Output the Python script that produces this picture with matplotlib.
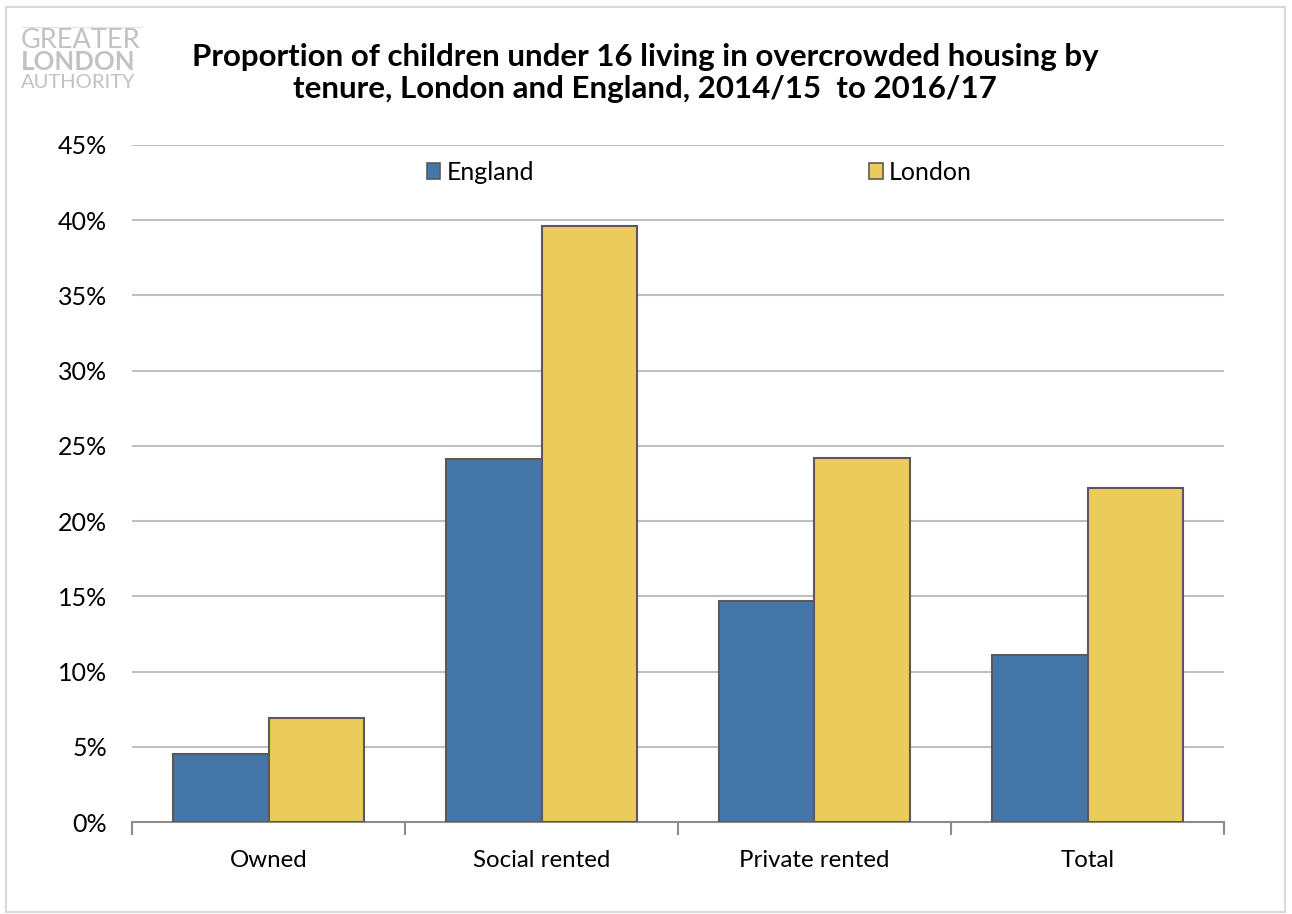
import matplotlib
matplotlib.use("Agg")
import matplotlib.pyplot as plt
import numpy as np
from matplotlib.patches import Rectangle
from matplotlib.lines import Line2D

categories = ["Owned", "Social rented", "Private rented", "Total"]
england = [4.5, 24.1, 14.7, 11.1]
london = [6.9, 39.6, 24.2, 22.2]
series_names = ["England", "London"]
yticks = [0, 5, 10, 15, 20, 25, 30, 35, 40, 45]
title = "Proportion of children under 16 living in overcrowded housing by\ntenure, London and England, 2014/15  to 2016/17"

plt.rcParams['font.family'] = ['Lato', 'DejaVu Sans']

W, H = 1292, 914
fig = plt.figure(figsize=(W/100, H/100), dpi=100)

# outer frame
fig.patches.append(Rectangle((6/W, 1 - 912/H), (1285-6)/W, (912-7)/H, transform=fig.transFigure,
                             fill=False, edgecolor='#d9d9d9', linewidth=1.5))

ax = fig.add_axes([132/W, 1 - 822/H, (1224-132)/W, (822-145)/H])
x = np.arange(len(categories))
w = 0.35
blue = '#4576A9'
yellow = '#EBCB5C'
edge = '#5a5a5a'
ax.bar(x - w/2, england, w, color=blue, edgecolor=edge, linewidth=1.5, label=series_names[0], zorder=3)
ax.bar(x + w/2, london, w, color=yellow, edgecolor=edge, linewidth=1.5, label=series_names[1], zorder=3)

ax.set_xlim(-0.5, len(categories) - 0.5)
ax.set_ylim(0, 45)
ax.set_yticks(yticks)
ax.set_yticklabels([f"{v}%" for v in yticks], fontsize=18)
ax.set_xticks(x)
ax.set_xticklabels(categories, fontsize=17.3)
ax.set_xticks(np.arange(len(categories) + 1) - 0.5, minor=True)
ax.tick_params(axis='x', which='major', length=0, pad=20)
ax.tick_params(axis='x', which='minor', length=9, width=1.5, color='#8c8c8c', direction='out')
ax.tick_params(axis='y', length=0, pad=18)
for s in ['top', 'right', 'left']:
    ax.spines[s].set_visible(False)
ax.spines['bottom'].set_color('#8c8c8c')
ax.spines['bottom'].set_linewidth(1.5)
ax.yaxis.grid(True, color='#c0c0c0', linewidth=1.5, zorder=0)
ax.set_axisbelow(True)

# legend
h1 = Rectangle((0, 0), 1, 1, facecolor=blue, edgecolor=edge, linewidth=1.2)
h2 = Rectangle((0, 0), 1, 1, facecolor=yellow, edgecolor=edge, linewidth=1.2)
fig.legend([h1, h2], series_names, loc='center left', bbox_to_anchor=(414/W, 1 - 172/H),
           ncol=2, frameon=False, fontsize=18, handlelength=0.55, handleheight=0.6,
           handletextpad=0.25, columnspacing=13.4, borderpad=0)

# title
fig.text(645/W, 1 - 73/H, title, ha='center', va='center', fontsize=22.5, fontweight='bold',
         linespacing=1.2)

# logo
fig.add_artist(Line2D([22/W, 142/W], [1 - 27/H, 1 - 27/H], color='#e6e6e6', linewidth=1))
fig.text(21/W, 1 - 40/H, "GREATER", fontsize=19.5, color='#bfc3c7', va='center', ha='left')
fig.text(21/W, 1 - 62/H, "LONDON", fontsize=18.5, color='#bfc3c7', va='center', ha='left', fontweight='bold')
fig.text(21/W, 1 - 82/H, "AUTHORITY", fontsize=14.5, color='#bfc3c7', va='center', ha='left')

fig.savefig("out.png", dpi=100)
